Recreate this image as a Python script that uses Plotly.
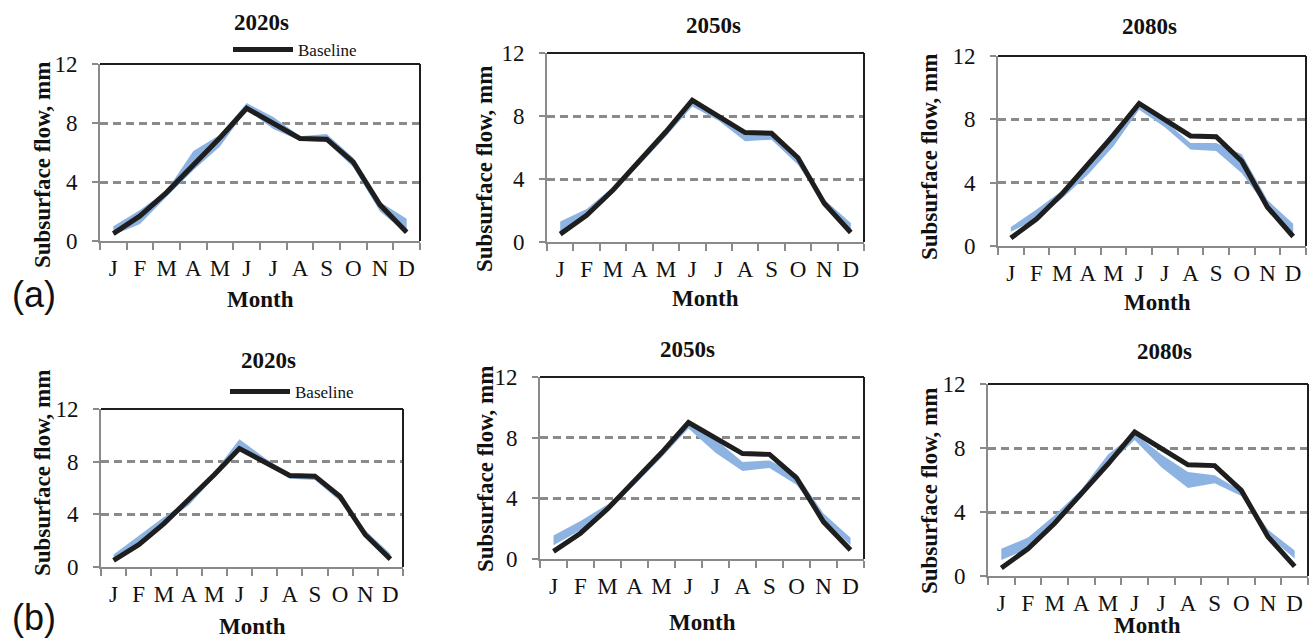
import plotly.graph_objects as go

W, H = 1314, 641

MONTHS = ["J", "F", "M", "A", "M", "J", "J", "A", "S", "O", "N", "D"]
Y_TICKS = [0, 4, 8, 12]
BASELINE = [0.5, 1.7, 3.3, 5.1, 7.0, 9.0, 8.0, 6.95, 6.9, 5.35, 2.45, 0.6]

PERIODS = ["2020s", "2050s", "2080s", "2020s", "2050s", "2080s"]

LOW_A20 = [0.4, 1.15, 3.0, 4.8, 6.4, 8.9, 7.6, 6.8, 6.7, 5.0, 2.0, 0.55]
HIGH_A20 = [1.0, 2.1, 3.4, 6.1, 7.2, 9.35, 8.4, 7.1, 7.25, 5.65, 2.65, 1.5]
LOW_A50 = [0.5, 1.6, 3.2, 4.9, 6.7, 8.6, 7.7, 6.4, 6.5, 4.9, 2.4, 0.6]
HIGH_A50 = [1.3, 2.1, 3.5, 5.2, 7.0, 8.95, 8.0, 6.9, 6.9, 5.5, 2.7, 1.2]
LOW_A80 = [0.9, 1.7, 3.0, 4.5, 6.3, 8.6, 7.5, 6.1, 6.0, 4.6, 2.4, 0.8]
HIGH_A80 = [1.2, 2.3, 3.5, 5.2, 7.3, 9.0, 7.9, 6.5, 6.5, 5.8, 2.9, 1.4]
LOW_B20 = [0.5, 1.9, 3.3, 4.7, 6.8, 9.0, 7.9, 6.7, 6.6, 5.0, 2.5, 0.7]
HIGH_B20 = [0.95, 2.4, 3.8, 5.1, 7.2, 9.7, 8.3, 7.0, 6.9, 5.3, 2.8, 1.0]
LOW_B50 = [0.9, 1.9, 3.3, 4.9, 6.7, 8.6, 7.0, 5.8, 6.0, 4.9, 2.6, 0.9]
HIGH_B50 = [1.55, 2.5, 3.6, 5.2, 7.1, 8.9, 7.9, 6.4, 6.5, 5.6, 3.0, 1.4]
LOW_B80 = [1.0, 1.7, 3.3, 4.9, 6.9, 8.5, 6.8, 5.5, 5.8, 5.0, 2.5, 1.1]
HIGH_B80 = [1.7, 2.4, 3.8, 5.4, 7.6, 8.9, 7.6, 6.5, 6.3, 5.3, 2.9, 1.6]

LOWS = [LOW_A20, LOW_A50, LOW_A80, LOW_B20, LOW_B50, LOW_B80]
HIGHS = [HIGH_A20, HIGH_A50, HIGH_A80, HIGH_B20, HIGH_B50, HIGH_B80]

# layout geometry in pixels: (x0, x1, ytop, ybottom)
BOXES = [(100, 420, 64, 241), (547, 864, 53, 242), (998, 1306, 56, 246),
         (101, 403, 409, 567), (540, 864, 377, 559), (988, 1308, 384, 576)]
TITLE_POS = [(261, 23), (713, 26), (1149, 27), (268, 360), (687, 349), (1164, 351)]
YLAB_POS = [(42, 165), (485, 169), (929, 157), (42, 473), (485, 469), (929, 491)]
XLAB_POS = [(260, 299), (705, 298), (1157, 302), (252, 626), (702, 622), (1147, 625)]
LEGEND_POS = [(228, 50), (225, 392)]

SERIF = "Liberation Serif, Times New Roman, serif"
GRAY = "#8a8a8a"
BAND = "#8db3e2"
LINE = "#1e1e1e"

x_idx = list(range(len(MONTHS)))
fig = go.Figure()
layout = dict(width=W, height=H, margin=dict(l=0, r=0, t=0, b=0, pad=0, autoexpand=False),
              paper_bgcolor="white", plot_bgcolor="white", showlegend=True)
annotations = []
shapes = []

for i in range(6):
    n = "" if i == 0 else str(i + 1)
    xa, ya = "x" + n, "y" + n
    fig.add_trace(go.Scatter(x=x_idx, y=LOWS[i], mode="lines", line=dict(width=0, color=BAND),
                             showlegend=False, hoverinfo="skip", xaxis=xa, yaxis=ya))
    fig.add_trace(go.Scatter(x=x_idx, y=HIGHS[i], mode="lines", line=dict(width=0, color=BAND),
                             fill="tonexty", fillcolor=BAND, showlegend=False, hoverinfo="skip",
                             xaxis=xa, yaxis=ya))
    leg = None
    if i == 0:
        leg = "legend"
    elif i == 3:
        leg = "legend2"
    fig.add_trace(go.Scatter(x=x_idx, y=BASELINE, mode="lines", name="Baseline",
                             line=dict(color=LINE, width=5),
                             showlegend=leg is not None, legend=leg or "legend",
                             xaxis=xa, yaxis=ya))
    x0, x1, yt, yb = BOXES[i]
    layout["xaxis" + n] = dict(
        domain=[x0 / W, x1 / W], anchor=ya, range=[-0.5, len(MONTHS) - 0.5],
        tickmode="array", tickvals=x_idx, ticktext=MONTHS,
        ticks="outside", ticklen=5, tickcolor="rgba(0,0,0,0)",
        minor=dict(tickmode="array", tickvals=[k - 0.5 for k in range(len(MONTHS) + 1)],
                   ticks="outside", ticklen=7, tickwidth=2, tickcolor=GRAY),
        showline=True, linecolor=GRAY, linewidth=2, showgrid=False, zeroline=False,
        tickfont=dict(family=SERIF, size=23, color="#111"), ticklabelstandoff=0,
        automargin=False, fixedrange=True)
    layout["yaxis" + n] = dict(
        domain=[1 - yb / H, 1 - yt / H], anchor=xa, range=[0, 12],
        tickmode="array", tickvals=Y_TICKS,
        ticks="outside", ticklen=6, tickwidth=2, tickcolor=GRAY,
        showline=True, linecolor=GRAY, linewidth=2,
        showgrid=True, gridcolor=GRAY, gridwidth=2.5, griddash="8px,5px", zeroline=False,
        tickfont=dict(family=SERIF, size=23, color="#111"), ticklabelstandoff=10,
        automargin=False, fixedrange=True)
    shapes.append(dict(type="line", xref=xa + " domain", yref=ya + " domain",
                       x0=0, x1=1, y0=1, y1=1, line=dict(color=LINE, width=2)))
    shapes.append(dict(type="line", xref=xa + " domain", yref=ya + " domain",
                       x0=1, x1=1, y0=0, y1=1, line=dict(color=LINE, width=2)))
    tx, ty = TITLE_POS[i]
    annotations.append(dict(text="<b>%s</b>" % PERIODS[i], x=tx / W, y=1 - ty / H,
                            xref="paper", yref="paper", showarrow=False,
                            xanchor="center", yanchor="middle",
                            font=dict(family=SERIF, size=23, color="#111")))
    lx, ly = YLAB_POS[i]
    annotations.append(dict(text="<b>Subsurface flow, mm</b>", x=lx / W, y=1 - ly / H,
                            xref="paper", yref="paper", showarrow=False, textangle=-90,
                            xanchor="center", yanchor="middle",
                            font=dict(family=SERIF, size=23, color="#111")))
    mx, my = XLAB_POS[i]
    annotations.append(dict(text="<b>Month</b>", x=mx / W, y=1 - my / H,
                            xref="paper", yref="paper", showarrow=False,
                            xanchor="center", yanchor="middle",
                            font=dict(family=SERIF, size=23, color="#111")))

for lab, py in (("(a)", 294), ("(b)", 617)):
    annotations.append(dict(text=lab, x=34 / W, y=1 - py / H, xref="paper", yref="paper",
                            showarrow=False, xanchor="center", yanchor="middle",
                            font=dict(family="Liberation Sans, Arial, sans-serif",
                                      size=36, color="#111")))

for key, (px, py) in zip(["legend", "legend2"], LEGEND_POS):
    layout[key] = dict(x=px / W, y=1 - py / H, xanchor="left", yanchor="middle",
                       itemwidth=60, bgcolor="rgba(0,0,0,0)", borderwidth=0,
                       font=dict(family=SERIF, size=17, color="#111"))

layout["annotations"] = annotations
layout["shapes"] = shapes
fig.update_layout(**layout)
fig.write_html("out.html")
